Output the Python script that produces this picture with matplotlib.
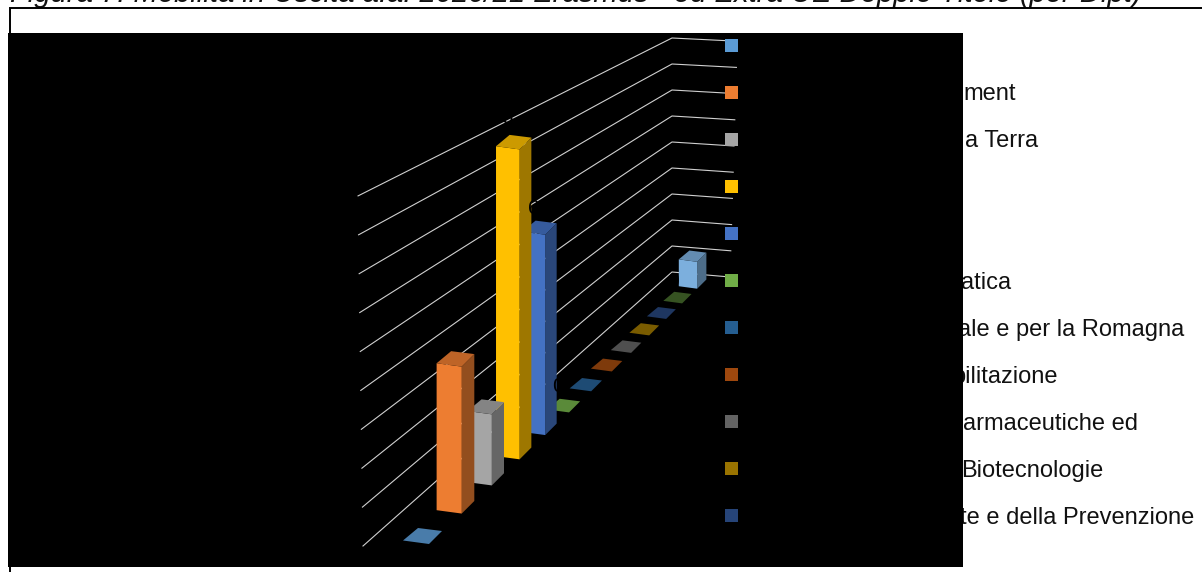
import matplotlib
matplotlib.use("Agg")
import matplotlib.pyplot as plt
from matplotlib.patches import Polygon, Rectangle
from matplotlib.colors import to_rgb

plt.rcParams['font.family'] = ['Liberation Sans', 'DejaVu Sans']

# data, one series per department (front to back)
values = [0, 4, 2, 9, 6, 0, 0, 0, 0, 0, 0, 0, 1]
colors = ['#5B9BD5', '#ED7D31', '#A5A5A5', '#FFC000', '#4472C4', '#70AD47',
          '#255E91', '#9E480E', '#636363', '#997300', '#264478', '#43682B', '#7CAFDD']
grid_levels = [0, 1, 2, 3, 4, 5, 6, 7, 8, 9]
# the rest of every legend entry is hidden by the black block
legend_tails = ['', 'ment', 'a Terra', '', '', 'atica', 'ale e per la Romagna',
                'bilitazione', 'armaceutiche ed', 'Biotecnologie', 'te e della Prevenzione']
legend_ends = [None, 1016, 1038, None, None, 1011, 1184, 1058, 1138, 1103, 1194]

figure_title = 'Figura 7: Mobilità in Uscita a.a. 2020/21 Erasmus+ ed Extra UE Doppio Titolo (per Dipt)'
chart_title = 'Dipartimenti di Mobilità in Uscita a.a. 2020/21'


def persp(d):
    return 1 / (1 + 0.0345 * d)


def base_centre(d):
    return 423 + 34.4 * d / (1 + 0.0441 * d), 536 - 31.4 * d / (1 + 0.0408 * d)


def project(d, fx, fy, v):
    # series depth + footprint offset + value -> picture position
    cx, cy = base_centre(d)
    s = persp(d)
    return cx + fx * s, cy + fy * s - v * 38 * s


def shade(col, k):
    r, g, b = to_rgb(col)
    return (r * k, g * k, b * k)


fig = plt.figure(figsize=(12.02, 5.72), dpi=100)
ax = fig.add_axes([0, 0, 1, 1])
ax.set_xlim(0, 1202)
ax.set_ylim(572, 0)
ax.axis('off')

ax.text(10, 2.5, figure_title, fontsize=21.05, style='italic', color='#111111', ha='left', va='baseline', zorder=1)
ax.text(20, 52.4, chart_title, fontsize=18, fontweight='bold', color='black', ha='left', va='baseline', zorder=1)

for i in range(len(legend_tails)):
    if legend_tails[i]:
        ax.text(legend_ends[i], 52.8 + 47.15 * i, legend_tails[i], fontsize=17, color='#111111',
                ha='right', va='baseline', zorder=1)

ax.add_patch(Rectangle((8, 33), 955, 534, facecolor='black', edgecolor='none', zorder=2))
ax.plot([9.5, 9.5, 1202], [572, 7.5, 7.5], color='black', lw=1.4, zorder=3, solid_joinstyle='miter')

# walls
for lev in grid_levels:
    xs = [363 - lev * 0.55, 672, 730 + lev * 0.8]
    ys = [546 - lev * 38.9, 272 - lev * 26, 277 - lev * 26.2]
    ax.plot(xs, ys, color='#d0d0d0', lw=0.8, zorder=4)

# bars from the back to the front
foot = [(-20, 4.5), (6, 8), (19, -5), (-5, -8)]
z = 5
for d in range(len(values) - 1, -1, -1):
    v = values[d]
    col = colors[d]
    top = [project(d, fx, fy, v) for fx, fy in foot]
    bot = [project(d, fx, fy, 0) for fx, fy in foot]
    if v > 0:
        ax.add_patch(Polygon([bot[1], bot[2], top[2], top[1]], facecolor=shade(col, 0.62), edgecolor='none', zorder=z))
        ax.add_patch(Polygon([bot[0], bot[1], top[1], top[0]], facecolor=col, edgecolor='none', zorder=z))
    ax.add_patch(Polygon(top, facecolor=shade(col, 0.8), edgecolor='none', zorder=z))
    z += 1

# data labels are black too, they only show where they cross a bar
for d in range(len(values)):
    lx, ly = project(d, -7, -22, values[d])
    ax.text(lx, ly, str(values[d]), fontsize=15, color='black', ha='center', va='center', zorder=30)

# legend keys
for i in range(len(legend_tails)):
    ax.add_patch(Rectangle((725, 39 + 47 * i), 13, 13, facecolor=colors[i], edgecolor='none', zorder=31))

fig.savefig('out.png', dpi=100)
